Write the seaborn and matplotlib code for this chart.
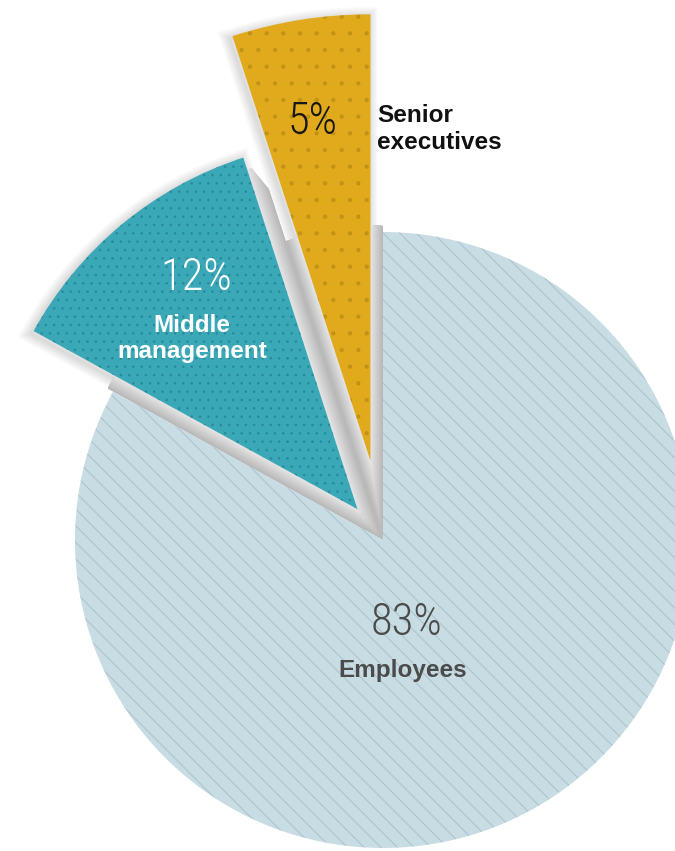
import numpy as np
import matplotlib
matplotlib.use("Agg")
import matplotlib.pyplot as plt
import seaborn as sns
from matplotlib.patches import Wedge, Circle

# Workforce split by level (percent)
groups = ["Senior\nexecutives", "Middle\nmanagement", "Employees"]
shares = [5, 12, 83]
pct_labels = ["5%", "12%", "83%"]

# Styling per slice
colors = ["#e1aa1c", "#3aa8b7", "#c8dce4"]
hatch_colors = ["#8a640c", "#23808e", "#93adb9"]
hatches = [".", "..", "\\\\"]
hatch_alpha = [0.28, 0.6, 0.55]
explode = [0.26, 0.13, 0.0]
radii = [1.45, 1.20, 1.0]
pct_colors = ["#161616", "#ffffff", "#4b4b4b"]
name_colors = ["#111111", "#ffffff", "#4b4b4b"]

sns.set_theme(style="white")
plt.rcParams["hatch.linewidth"] = 0.7

PX = 308.0                     # pixels per data unit
W, H = 675, 851
cx, cy = 383, 540              # pie centre in pixels from the top-left

fig = plt.figure(figsize=(W / 100, H / 100), dpi=100)
ax = fig.add_axes([0, 0, 1, 1])

wedges, _ = ax.pie(shares, colors=colors, startangle=90, counterclock=True,
                   explode=explode, radius=1.0,
                   wedgeprops=dict(linewidth=0))

for w, r in zip(wedges, radii):
    w.set_radius(r)
    w.set_zorder(3)


def draw_sides(w, clip_patch):
    """Grey extruded side swept from the pie centre to an exploded slice."""
    c1 = np.array(w.center, dtype=float)
    steps = np.linspace(0, 1, 40, endpoint=False)
    greys = np.linspace(0.72, 0.90, len(steps))
    for t, g in zip(steps, greys):
        side = Wedge(tuple(c1 * t), w.r, w.theta1, w.theta2,
                     facecolor=(g, g, g), linewidth=0, zorder=1)
        ax.add_patch(side)
        side.set_clip_path(clip_patch)


inner_clip = Circle((0, 0), 1.02, transform=ax.transData)
upper_clip = Wedge((0, 0), 1.28, 95, 128, transform=ax.transData)
for w in wedges:
    if np.allclose(w.center, 0):
        continue
    draw_sides(w, inner_clip)
draw_sides(wedges[1], upper_clip)

# Soft drop shadow for the exploded slices
for w in wedges[:2]:
    c1 = np.array(w.center, dtype=float)
    for k in range(12):
        sh = Wedge((c1[0] - 0.008, c1[1] - 0.008), w.r, w.theta1, w.theta2,
                   facecolor="none", edgecolor=(0.45, 0.45, 0.45, 0.018),
                   linewidth=1.2 * (k + 1), zorder=0.5)
        ax.add_patch(sh)

# Surface texture on each slice
for w, hc, h, a in zip(wedges, hatch_colors, hatches, hatch_alpha):
    tex = Wedge(w.center, w.r, w.theta1, w.theta2, facecolor="none",
                edgecolor=hc, linewidth=0, hatch=h, zorder=4, alpha=a)
    ax.add_patch(tex)

ax.set_xlim(-cx / PX, (W - cx) / PX)
ax.set_ylim(-(H - cy) / PX, cy / PX)
ax.set_aspect("auto")
ax.axis("off")

pct_font = dict(family=["Roboto Condensed", "Open Sans Condensed",
                        "Liberation Sans Narrow", "Roboto", "DejaVu Sans"],
                fontstretch="condensed", fontweight="light", fontsize=32)
name_font = dict(family=["Liberation Sans", "DejaVu Sans"],
                 fontweight="bold", fontsize=17.5)

# Percentages
pct_pos = [(-0.228, 1.357), (-0.607, 0.851), (0.075, -0.27)]
for (x, y), s, c in zip(pct_pos, pct_labels, pct_colors):
    ax.text(x, y, s, ha="center", va="center", color=c, zorder=6, **pct_font)

# Group names
ax.text(-0.02, 1.415, groups[0], ha="left", va="top", color=name_colors[0],
        linespacing=1.2, zorder=6, **name_font)
ax.text(-0.62, 0.735, groups[1], ha="center", va="top", color=name_colors[1],
        linespacing=1.2, zorder=6, **name_font)
ax.text(0.065, -0.385, groups[2], ha="center", va="top", color=name_colors[2],
        zorder=6, **name_font)

fig.savefig("out.png", dpi=100, facecolor="white")
